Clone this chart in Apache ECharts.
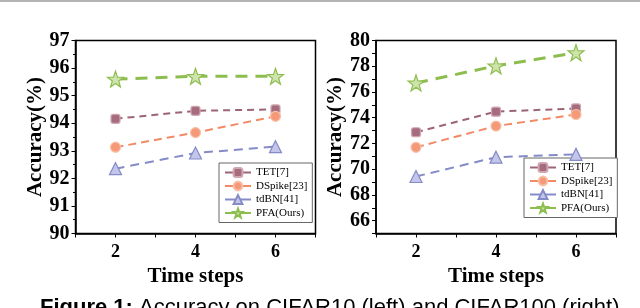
<!DOCTYPE html>
<html><head><meta charset="utf-8">
<script src="https://cdn.jsdelivr.net/npm/echarts@6/dist/echarts.min.js"></script>
<style>html,body{margin:0;padding:0;background:#fff}#c{width:640px;height:308px}</style>
</head><body><div id="c"></div>
<script>
var timeSteps = [2, 4, 6];
var seriesNames = ['TET[7]', 'DSpike[23]', 'tdBN[41]', 'PFA(Ours)'];
// CIFAR10 (left)
var c10_TET = [94.16, 94.45, 94.50];
var c10_DSpike = [93.13, 93.66, 94.25];
var c10_tdBN = [92.35, 92.92, 93.15];
var c10_PFA = [95.60, 95.70, 95.70];
// CIFAR100 (right)
var c100_TET = [72.87, 74.47, 74.72];
var c100_DSpike = [71.70, 73.35, 74.25];
var c100_tdBN = [69.43, 70.93, 71.15];
var c100_PFA = [76.70, 78.03, 79.05];
var leftYTicks = [90, 91, 92, 93, 94, 95, 96, 97];
var rightYTicks = [66, 68, 70, 72, 74, 76, 78, 80];
var xTickLabels = [2, 4, 6];

var star = 'path://M0,-10 L2.35,-3.24 L9.51,-3.09 L3.8,1.24 L5.88,8.09 L0,4 L-5.88,8.09 L-3.8,1.24 L-9.51,-3.09 L-2.35,-3.24 Z';
var styles = [
  {color:'#9c6476', sym:'roundRect', size:9, fill:'#a66c7e', border:'#cfa6b2', w:2, dash:[7,5]},
  {color:'#f28a66', sym:'circle', size:10, fill:'#f49a78', border:'#f8c0a8', w:2, dash:[8,5]},
  {color:'#848bc6', sym:'triangle', size:12, fill:'#c3c6ea', border:'#848bc6', w:2, dash:[9,6]},
  {color:'#8dbd4f', sym:star, size:16, fill:'#cfe4ad', border:'#8dbd4f', w:3, dash:[12,8]}
];
function pairs(vals){ return timeSteps.map(function(t,i){return [t, vals[i]];}); }
function mk(name, idx, vals, g){
  var s = styles[idx];
  return {
    name: name, type:'line', xAxisIndex:g, yAxisIndex:g, data: pairs(vals),
    symbol: s.sym, symbolSize: s.size, showSymbol:true,
    lineStyle:{color:s.color, width:s.w, type:s.dash},
    itemStyle:{color:s.fill, borderColor:s.border, borderWidth:1.2},
    color: s.color, z: 3+idx, animation:false
  };
}
var serif = 'Liberation Serif';
function xAx(g){
  return {
    gridIndex:g, type:'value', min:1, max:7, interval:1,
    axisLine:{lineStyle:{color:'#000', width:1.5}},
    axisTick:{length:4, lineStyle:{color:'#000', width:1}},
    splitLine:{show:false},
    axisLabel:{margin:10, color:'#000', fontFamily:serif, fontWeight:'bold', fontSize:18,
      formatter:function(v){ return xTickLabels.indexOf(v) >= 0 ? String(v) : ''; }},
    name:'Time steps', nameLocation:'middle', nameGap:22,
    nameTextStyle:{color:'#000', fontFamily:serif, fontWeight:'bold', fontSize:21}
  };
}
function yAx(g, min, max, ticks, gap){
  return {
    gridIndex:g, type:'value', min:min, max:max, interval:1,
    axisLine:{show:true, lineStyle:{color:'#000', width:1.5}},
    axisTick:{show:true, length:4, lineStyle:{color:'#000', width:1}},
    minorTick:{show: g===0, splitNumber:2, length:2.5, lineStyle:{color:'#000', width:1}},
    splitLine:{show:false},
    axisLabel:{margin:6, color:'#000', fontFamily:serif, fontWeight:'bold', fontSize:20,
      formatter:function(v){ return ticks.indexOf(v) >= 0 ? String(v) : ''; }},
    name:'Accuracy(%)', nameLocation:'middle', nameGap:gap,
    nameTextStyle:{color:'#000', fontFamily:serif, fontWeight:'bold', fontSize:21}
  };
}
function leg(left, top){
  return {
    data: seriesNames, orient:'vertical', left:left, top:top,
    padding:[4,5,4,5], itemWidth:26, itemHeight:11, itemGap:2.5,
    backgroundColor:'#fff', borderColor:'#666', borderWidth:1, borderRadius:0,
    textStyle:{fontFamily:serif, fontSize:11, color:'#000', lineHeight:11},
    lineStyle:{type:'solid', width:2}
  };
}
var chart = echarts.init(document.getElementById('c'), null, {renderer:'canvas'});
chart.setOption({
  animation:false,
  backgroundColor:'#fff',
  grid:[
    {left:75.5, top:40.5, width:240, height:193, show:true, borderColor:'#000', borderWidth:1.5, backgroundColor:'transparent'},
    {left:376, top:40.5, width:240, height:193, show:true, borderColor:'#000', borderWidth:1.5, backgroundColor:'transparent'}
  ],
  xAxis:[xAx(0), xAx(1)],
  yAxis:[yAx(0, 90, 97, leftYTicks, 29), yAx(1, 65, 80, rightYTicks, 30)],
  legend:[leg(219, 163), leg(524, 158)],
  series:[
    mk(seriesNames[0],0,c10_TET,0), mk(seriesNames[1],1,c10_DSpike,0), mk(seriesNames[2],2,c10_tdBN,0), mk(seriesNames[3],3,c10_PFA,0),
    mk(seriesNames[0],0,c100_TET,1), mk(seriesNames[1],1,c100_DSpike,1), mk(seriesNames[2],2,c100_tdBN,1), mk(seriesNames[3],3,c100_PFA,1)
  ],
  graphic:[
    {type:'rect', left:0, top:0, shape:{width:640, height:2}, style:{fill:'#b4b4b4'}},
    {type:'text', left:40, top:297, style:{
      text:'{b|Figure 1:} Accuracy on CIFAR10 (left) and CIFAR100 (right).',
      font:'22px "Liberation Sans"', fill:'#000',
      rich:{b:{fontWeight:'bold', fontFamily:'Liberation Sans', fontSize:22, fill:'#000'}}
    }}
  ]
});
</script></body></html>
